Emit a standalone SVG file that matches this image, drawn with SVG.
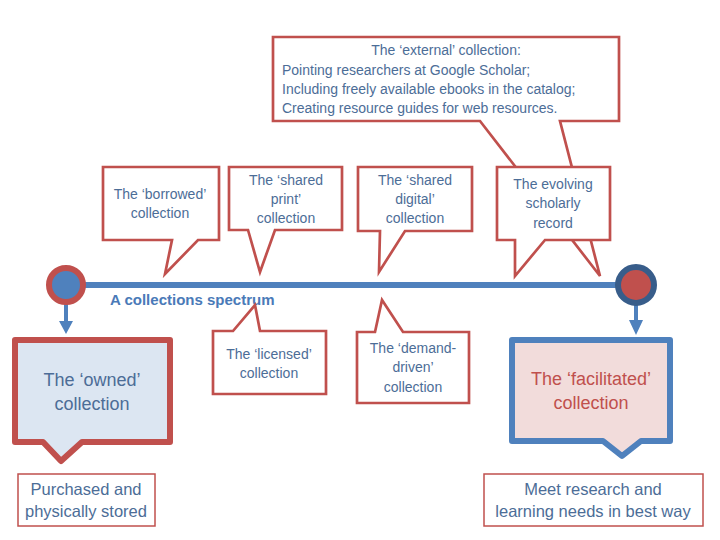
<svg xmlns="http://www.w3.org/2000/svg" width="720" height="540" viewBox="0 0 720 540">
<style>
.co{fill:#fff;stroke:#C0504D;stroke-width:2.7;stroke-linejoin:miter}
.t{font-family:"Liberation Sans",Arial,sans-serif;font-size:14px;fill:#4C6D97;text-anchor:middle}
.big{font-size:18px}
.mid{font-size:16.5px}
.lab{fill:#fff;stroke:#C0504D;stroke-width:1.5}
</style>
<rect width="720" height="540" fill="#fff"/>
<g id="connectors">
<line x1="66" y1="285" x2="636" y2="285" stroke="#4F81BD" stroke-width="6"/>
<line x1="66" y1="303" x2="66" y2="323" stroke="#4F81BD" stroke-width="4"/>
<polygon points="59,321 73,321 66,334" fill="#4F81BD"/>
<line x1="636" y1="304" x2="636" y2="322" stroke="#4F81BD" stroke-width="4"/>
<polygon points="629,320 643,320 636,335" fill="#4F81BD"/>
</g>
<g id="start">
<circle cx="66" cy="285" r="17" fill="#4F81BD" stroke="#C0504D" stroke-width="6"/>
</g>
<g id="end">
<circle cx="636" cy="285" r="18" fill="#C0504D" stroke="#385D8A" stroke-width="6"/>
</g>
<g id="spectrum-label">
<text x="110" y="305" style="font-family:'Liberation Sans',Arial,sans-serif;font-size:15px;font-weight:bold;fill:#4A7AB8">A collections spectrum</text>
</g>
<g id="external">
<path class="co" d="M273,37 H619 V121 H560 L600,276 L480,121 H273 Z"/>
<text class="t" x="446" y="55">The ‘external’ collection:</text>
<text class="t" x="282" y="75" style="text-anchor:start">Pointing researchers at Google Scholar;</text>
<text class="t" x="282" y="94" style="text-anchor:start">Including freely available ebooks in the catalog;</text>
<text class="t" x="282" y="113" style="text-anchor:start">Creating resource guides for web resources.</text>
</g>
<g id="borrowed">
<path class="co" d="M103,167 H219 V240 H198 L165,274 L172,240 H103 Z"/>
<text class="t" x="160" y="199">The ‘borrowed’</text>
<text class="t" x="160" y="218">collection</text>
</g>
<g id="shared-print">
<path class="co" d="M229,167 H342 V230 H275 L260,272 L248,230 H229 Z"/>
<text class="t" x="286" y="185">The ‘shared</text>
<text class="t" x="286" y="204">print’</text>
<text class="t" x="286" y="223">collection</text>
</g>
<g id="shared-digital">
<path class="co" d="M358,167 H472 V231 H405 L379,272 L380,231 H358 Z"/>
<text class="t" x="415" y="185">The ‘shared</text>
<text class="t" x="415" y="204">digital’</text>
<text class="t" x="415" y="223">collection</text>
</g>
<g id="evolving">
<path class="co" d="M497,167 H610 V240 H545 L515,276 L515,240 H497 Z"/>
<text class="t" x="553" y="189">The evolving</text>
<text class="t" x="553" y="208">scholarly</text>
<text class="t" x="553" y="228">record</text>
</g>
<g id="licensed">
<path class="co" d="M213,331 H233 L255,305 L260,331 H326 V394 H213 Z"/>
<text class="t" x="269" y="359">The ‘licensed’</text>
<text class="t" x="269" y="378">collection</text>
</g>
<g id="demand-driven">
<path class="co" d="M357,332 H375 L382,300 L403,332 H469 V403 H357 Z"/>
<text class="t" x="413" y="353">The ‘demand-</text>
<text class="t" x="413" y="372">driven’</text>
<text class="t" x="413" y="392">collection</text>
</g>
<g id="owned">
<path d="M15,340 H170 V442 H82 L61,461 L43,442 H15 Z" fill="#DCE6F2" stroke="#C0504D" stroke-width="6" stroke-linejoin="round"/>
<text class="t big" x="92" y="386">The ‘owned’</text>
<text class="t big" x="92" y="410">collection</text>
</g>
<g id="facilitated">
<path d="M512,340 H670 V441 H641 L622,456 L603,441 H512 Z" fill="#F2DCDB" stroke="#4F81BD" stroke-width="6" stroke-linejoin="round"/>
<text class="t big" x="591" y="385" style="fill:#C0504D">The ‘facilitated’</text>
<text class="t big" x="591" y="409" style="fill:#C0504D">collection</text>
</g>
<g id="purchased">
<rect class="lab" x="18" y="474" width="137" height="52"/>
<text class="t mid" x="86" y="495">Purchased and</text>
<text class="t mid" x="86" y="517">physically stored</text>
</g>
<g id="meet">
<rect class="lab" x="484" y="474" width="219" height="52"/>
<text class="t mid" x="593" y="495">Meet research and</text>
<text class="t mid" x="593" y="517">learning needs in best way</text>
</g>
</svg>
